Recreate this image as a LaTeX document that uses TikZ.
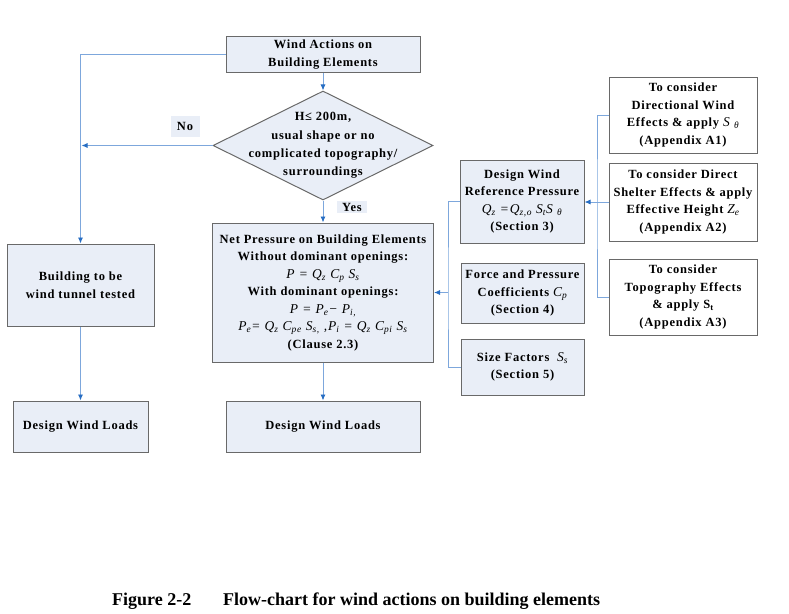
\documentclass[tikz,border=0pt]{standalone}
\usepackage{fontspec}
\setmainfont{Liberation Serif}
\usetikzlibrary{shapes.geometric,arrows.meta,positioning}

\definecolor{boxfill}{RGB}{233,238,247}
\definecolor{boxline}{RGB}{105,105,105}
\definecolor{wireblue}{RGB}{125,167,220}
\definecolor{tipblue}{RGB}{40,110,195}

\newcommand{\boxfont}{\fontsize{12.5}{17.5}\selectfont\bfseries\addfontfeatures{LetterSpace=6}}
\newcommand{\condfont}{\fontsize{12.5}{18.3}\selectfont\bfseries\addfontfeatures{LetterSpace=6}}
\newcommand{\wsub}[2]{\textit{#1}\textsubscript{\textit{#2}}}
\newcommand{\fml}[1]{{\fontsize{13.5}{17.5}\selectfont\mdseries\itshape #1}}

\begin{document}
\begin{tikzpicture}[x=1pt,y=-1pt,
    box/.style={draw=boxline, line width=1pt, fill=boxfill, align=center, inner sep=0pt,
      font=\boxfont},
    plainbox/.style={box, fill=white},
    tag/.style={fill=boxfill, inner sep=0pt, font=\boxfont},
    wire/.style={draw=wireblue, line width=0.9pt},
    flow/.style={wire, -{Latex[length=6pt,width=5pt,color=tipblue]}}]
    \useasboundingbox (0,0) rectangle (789,613);

    % Main column
    \node[box, minimum width=194pt, minimum height=36pt] (start) at (323,54.5)
        {Wind Actions on\\Building Elements};
    \node[diamond, draw=boxline, line width=1pt, fill=boxfill, inner sep=0pt,
        minimum width=220pt, minimum height=109pt] (cond) at (323,145.5) {};
    \node[align=center, font=\condfont] (condtext) at (cond.center)
        {H≤ 200m,\\usual shape or no\\complicated topography/\\surroundings};
    \node[box, minimum width=221pt, minimum height=139pt] (net) at (323,292.5)
        {Net Pressure on Building Elements\\
         Without dominant openings:\\
         \fml{P = \wsub{Q}{z} \wsub{C}{p} \wsub{S}{s}}\\
         With dominant openings:\\
         \fml{P = \wsub{P}{e}− \wsub{P}{i,}}\\
         \fml{\wsub{P}{e}= \wsub{Q}{z} \wsub{C}{pe} \wsub{S}{s,} ,\wsub{P}{i} = \wsub{Q}{z} \wsub{C}{pi} \wsub{S}{s}}\\
         (Clause 2.3)};
    \node[box, minimum width=194pt, minimum height=51pt] (loadsmid) at (323,426.5)
        {Design Wind Loads};

    % Wind tunnel branch
    \node[box, minimum width=147pt, minimum height=82pt] (tunnel) at (80.5,285)
        {Building to be\\wind tunnel tested};
    \node[box, minimum width=135pt, minimum height=51pt] (loadsleft) at (80.5,426.5)
        {Design Wind Loads};

    % Factor boxes
    \node[box, minimum width=124pt, minimum height=83pt] (refp) at (522,201.5)
        {Design Wind\\Reference Pressure\\
         \fml{\wsub{Q}{z} =\wsub{Q}{z,o} \wsub{S}{t}S \textsubscript{θ}}\\
         (Section 3)};
    \node[box, minimum width=123pt, minimum height=60pt] (coef) at (522.5,293)
        {Force and Pressure\\Coefficients \fml{\wsub{C}{p}}\\(Section 4)};
    \node[box, minimum width=123pt, minimum height=56pt] (size) at (522.5,367)
        {Size Factors\ \ \fml{\wsub{S}{s}}\\(Section 5)};

    % Appendix boxes
    \node[plainbox, minimum width=148pt, minimum height=76pt] (dirwind) at (683,115)
        {To consider\\Directional Wind\\Effects \& apply \fml{S \textsubscript{θ}}\\(Appendix A1)};
    \node[plainbox, minimum width=148pt, minimum height=78pt] (shelter) at (683,202)
        {To consider Direct\\Shelter Effects \& apply\\Effective Height \fml{\wsub{Z}{e}}\\(Appendix A2)};
    \node[plainbox, minimum width=148pt, minimum height=76pt] (topo) at (683,297)
        {To consider\\Topography Effects\\\& apply S\textsubscript{t}\\(Appendix A3)};

    % Yes / No
    \node[tag, minimum width=29pt, minimum height=21pt] (no) at (185,126.5) {No};
    \node[tag, minimum width=30pt, minimum height=12.5pt] (yes) at (352,207) {Yes};

    % Connectors
    \coordinate (midbus) at (448,292.5);
    \coordinate (rightbus) at (597,202);
    \draw[flow] (start) -- (cond);
    \draw[flow] (cond) -- (net);
    \draw[flow] (net) -- (loadsmid);
    \draw[flow] (start.west) -| (tunnel.north);
    \draw[flow] (cond.west) -- ([xshift=1pt]cond.west -| tunnel.north);
    \draw[flow] (tunnel) -- (loadsleft);
    \draw[wire] (refp.west) -| (midbus) |- (size.west);
    \draw[flow] (midbus) -- (net.east);
    \draw[wire] (dirwind.west) -| (rightbus) |- (topo.west);
    \draw[flow] (shelter.west) -- (refp.east |- shelter.west);

    % Caption
    \node[anchor=base west, inner sep=0pt, font=\fontsize{18}{21}\selectfont\bfseries] (fignum) at (112,605)
        {Figure 2-2};
    \node[anchor=base west, inner sep=0pt, font=\fontsize{18}{21}\selectfont\bfseries] (figtitle) at (223,605)
        {Flow-chart for wind actions on building elements};
\end{tikzpicture}
\end{document}
